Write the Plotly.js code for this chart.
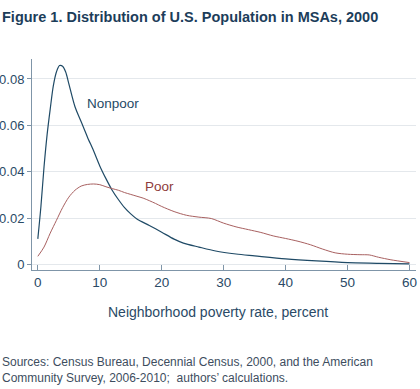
<!DOCTYPE html>
<html>
<head>
<meta charset="utf-8">
<script src="https://cdn.plot.ly/plotly-3.0.1.min.js"></script>
<style>html,body{margin:0;padding:0;background:#fff;}#chart{width:420px;height:389px;}</style>
</head>
<body>
<div id="chart"></div>
<script>
// Nonpoor density
const nonpoorX = [0,0.5,1,1.5,2,2.5,3,3.5,4,4.5,5,6,7,8,9,10,11,12,13,14,15,16,18,20,22,23.5,26,28.7,32,35,40,45,50,55,60];
const nonpoorY = [0.011,0.025,0.042,0.056,0.067,0.077,0.083,0.0858,0.0855,0.083,0.078,0.068,0.0615,0.055,0.049,0.0425,0.037,0.032,0.028,0.0245,0.0218,0.0196,0.0168,0.0139,0.0109,0.0092,0.0075,0.0058,0.0045,0.0037,0.0024,0.0015,0.0008,0.0005,0.0002];
// Poor density
const poorX = [0,1,2,3,4,5,6,7,8,9,10,11,12,13,14,15,16,17,18,19,20,22,24,26,28,30,32,34,36,38,40,42,44,46,48,50,52,53.5,55,57,60];
const poorY = [0.0035,0.0075,0.0135,0.019,0.0245,0.029,0.032,0.0338,0.0345,0.0347,0.0344,0.0335,0.0327,0.032,0.031,0.0302,0.0294,0.0286,0.0275,0.0263,0.025,0.0228,0.0212,0.0204,0.0198,0.0178,0.0162,0.015,0.0138,0.0123,0.0112,0.0100,0.0085,0.0066,0.005,0.0044,0.0042,0.0041,0.0031,0.002,0.0008];
const xTicks = [0,10,20,30,40,50,60];
const yTicks = [0,0.02,0.04,0.06,0.08];
const yTickLabels = ['0','0.02','0.04','0.06','0.08'];

const FONT = 'Liberation Sans, Arial, sans-serif';
const traces = [
  {x: nonpoorX, y: nonpoorY, mode:'lines', name:'Nonpoor', line:{color:'#1f4a66', width:1.2, shape:'spline', smoothing:0.8}},
  {x: poorX, y: poorY, mode:'lines', name:'Poor', line:{color:'#a86060', width:1, shape:'spline', smoothing:0.8}}
];
const layout = {
  width:420, height:389,
  margin:{l:32, r:4, t:59, b:119, pad:0},
  paper_bgcolor:'#fff', plot_bgcolor:'#fff',
  showlegend:false,
  font:{family:FONT, color:'#2a4a66', size:13},
  title:{text:'<b>Figure 1. Distribution of U.S. Population in MSAs, 2000</b>', x:0, xref:'container', xanchor:'left', y:1-17/389, yref:'container', yanchor:'middle', pad:{l:2}, font:{family:FONT, size:14.5, color:'#1c3d5a'}},
  xaxis:{range:[-0.94,61.05], tickvals:xTicks, ticktext:xTicks.map(String), ticks:'inside', ticklen:5, tickcolor:'#7f95a8', showline:true, linecolor:'#7f95a8', linewidth:1, showgrid:false, zeroline:false, tickfont:{size:13.5, color:'#2a4a66'}, fixedrange:true},
  yaxis:{range:[-0.0024,0.0886], tickvals:yTicks, ticktext:yTickLabels, ticks:'outside', ticklen:4, tickcolor:'#7f95a8', showline:true, linecolor:'#7f95a8', linewidth:1, showgrid:true, gridcolor:'#e4e8ec', gridwidth:1, zeroline:false, tickfont:{size:13, color:'#2a4a66'}, fixedrange:true},
  annotations:[
    {text:'Nonpoor', x:7.66, y:0.0696, xref:'x', yref:'y', xanchor:'left', yanchor:'middle', showarrow:false, font:{size:13.5, color:'#1f4a66'}},
    {text:'Poor', x:17.0, y:0.0334, xref:'x', yref:'y', xanchor:'left', yanchor:'middle', showarrow:false, font:{size:13.5, color:'#8e3b3b'}},
    {text:'Neighborhood poverty rate, percent', x:0.484, y:(270-312)/211, xref:'paper', yref:'paper', xanchor:'center', yanchor:'middle', showarrow:false, font:{size:14, color:'#2a4a66'}},
    {text:'Sources: Census Bureau, Decennial Census, 2000, and the American<br>Community Survey, 2006-2010;  authors\u2019 calculations.', x:0, xshift:-32, y:(270-370)/211, xref:'paper', yref:'paper', xanchor:'left', yanchor:'middle', align:'left', showarrow:false, font:{size:12, color:'#3d4d5e'}}
  ]
};
Plotly.newPlot('chart', traces, layout, {displayModeBar:false, staticPlot:true});
</script>
</body>
</html>
